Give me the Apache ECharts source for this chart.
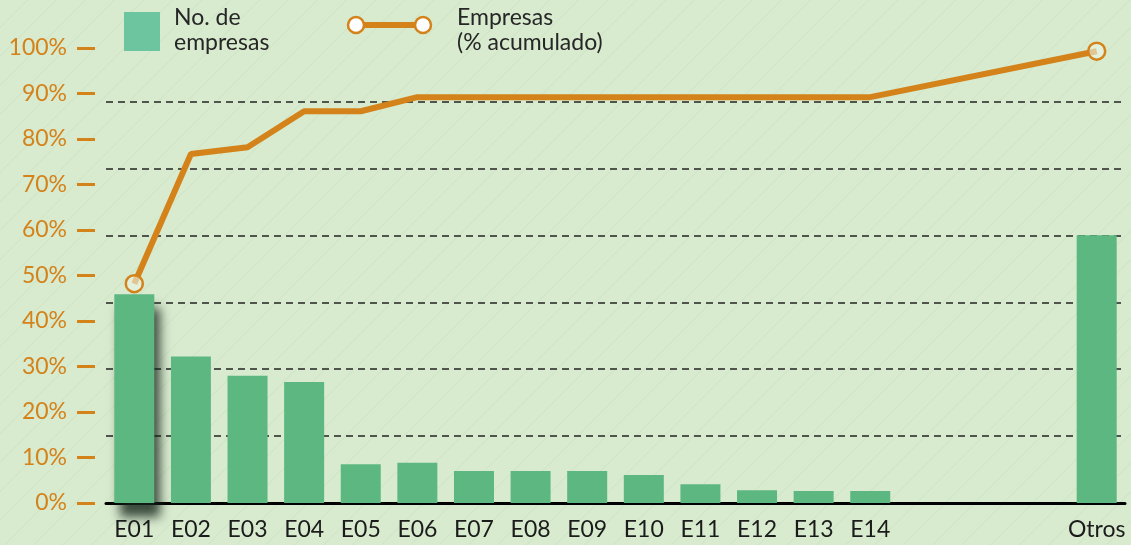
<!DOCTYPE html>
<html>
<head>
<meta charset="utf-8">
<script src="https://cdn.jsdelivr.net/npm/echarts@6/dist/echarts.min.js"></script>
<style>
  html, body { margin: 0; padding: 0; }
  body {
    background-color: #d8ebcf;
    background-image: repeating-linear-gradient(135deg, rgba(255,255,255,0) 0px, rgba(255,255,255,0) 19px, rgba(196,220,186,0.3) 19px, rgba(196,220,186,0.3) 20.5px);
  }
  #chart { width: 1131px; height: 545px; }
</style>
</head>
<body>
<div id="chart"></div>
<script>
// categorías (las tres vacías dejan el hueco antes de "Otros")
const categories = ['E01', 'E02', 'E03', 'E04', 'E05', 'E06', 'E07', 'E08', 'E09', 'E10', 'E11', 'E12', 'E13', 'E14', '', '', '', 'Otros'];
// No. de empresas (eje derecho, oculto)
const empresas = [31.2, 21.9, 19.0, 18.1, 5.8, 6.0, 4.8, 4.8, 4.8, 4.2, 2.8, 1.9, 1.8, 1.8, null, null, null, 40.0];
// Empresas, % acumulado (eje izquierdo)
const acumulado = [48.2, 76.7, 78.2, 86.1, 86.1, 89.2, 89.2, 89.2, 89.2, 89.2, 89.2, 89.2, 89.2, 89.2, null, null, null, 99.3];

const ORANGE = '#d4821a';
const GREEN = '#5cb780';
const FONT = 'Lato, "DejaVu Sans", sans-serif';

const chart = echarts.init(document.getElementById('chart'));

const lastIdx = acumulado.length - 1;
const lineData = acumulado.map((v, i) => ({
  value: v,
  symbol: (i === 0 || i === lastIdx) ? 'circle' : 'none'
}));

const barData = empresas.map((v, i) => {
  if (i !== 0) return v;
  // sombra sólo en la primera barra
  return {
    value: v,
    itemStyle: {
      shadowColor: 'rgba(20,35,25,0.8)',
      shadowBlur: 10,
      shadowOffsetX: 6,
      shadowOffsetY: 14
    }
  };
});

const option = {
  backgroundColor: 'transparent',
  animation: false,
  textStyle: { fontFamily: FONT },
  grid: { left: 106, right: 6, top: 48, bottom: 42 },
  xAxis: {
    type: 'category',
    data: categories,
    axisLine: { lineStyle: { color: '#000', width: 3 } },
    axisTick: { show: false },
    axisLabel: { interval: 0, color: '#1b1b1b', fontSize: 23, fontFamily: FONT, margin: 15 }
  },
  yAxis: [
    {
      type: 'value',
      min: 0,
      max: 100,
      interval: 10,
      position: 'left',
      offset: 11,
      axisLine: { show: false },
      axisTick: { show: true, length: 18, lineStyle: { color: ORANGE, width: 3 } },
      axisLabel: { color: ORANGE, fontSize: 23, fontFamily: FONT, margin: 28, formatter: '{value}%' },
      splitLine: { show: false }
    },
    {
      type: 'value',
      min: 0,
      max: 68,
      interval: 10,
      position: 'right',
      axisLine: { show: false },
      axisTick: { show: false },
      axisLabel: { show: false },
      splitLine: {
        show: true,
        showMinLine: false,
        showMaxLine: false,
        lineStyle: { color: '#4f554d', width: 2, type: [7, 5] }
      }
    }
  ],
  series: [
    {
      name: 'No. de empresas',
      type: 'bar',
      yAxisIndex: 1,
      barWidth: 40,
      itemStyle: { color: GREEN },
      data: barData,
      z: 2
    },
    {
      name: 'Empresas (% acumulado)',
      type: 'line',
      yAxisIndex: 0,
      connectNulls: true,
      symbolSize: 17,
      lineStyle: { color: ORANGE, width: 6 },
      itemStyle: { color: 'rgba(234,243,228,0.6)', borderColor: ORANGE, borderWidth: 2.5 },
      data: lineData,
      z: 3
    }
  ],
  graphic: [
    { type: 'rect', shape: { x: 124, y: 12, width: 36, height: 39 }, style: { fill: '#6cc59f' } },
    {
      type: 'text', x: 174, y: 5,
      style: { text: 'No. de\nempresas', font: '23px ' + FONT, fill: '#262626', lineHeight: 25 }
    },
    { type: 'line', shape: { x1: 356, y1: 25, x2: 423, y2: 25 }, style: { stroke: ORANGE, lineWidth: 6 } },
    { type: 'circle', shape: { cx: 356, cy: 25, r: 8 }, style: { fill: '#fff', stroke: ORANGE, lineWidth: 2.5 } },
    { type: 'circle', shape: { cx: 423, cy: 25, r: 8 }, style: { fill: '#fff', stroke: ORANGE, lineWidth: 2.5 } },
    {
      type: 'text', x: 457, y: 5,
      style: { text: 'Empresas\n(% acumulado)', font: '23px ' + FONT, fill: '#262626', lineHeight: 25 }
    }
  ]
};

chart.setOption(option);
</script>
</body>
</html>
